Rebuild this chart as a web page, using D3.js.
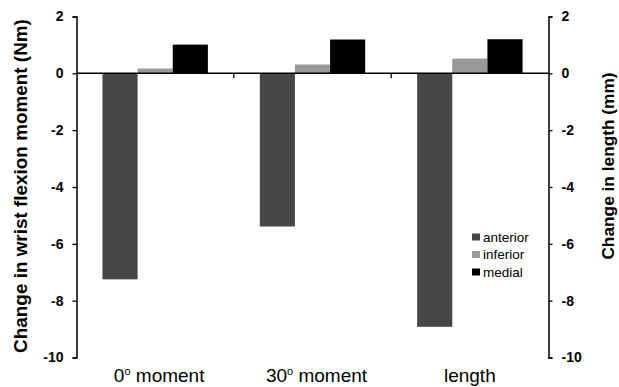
<!DOCTYPE html>
<html>
<head>
<meta charset="utf-8">
<script src="https://cdn.jsdelivr.net/npm/d3@7"></script>
<style>
  body { margin: 0; background: white; }
</style>
</head>
<body>
<div id="chart"></div>
<script>
// categories and series
let categories = ["0° moment", "30° moment", "length"];
let seriesNames = ["anterior", "inferior", "medial"];
let anterior = [-7.25, -5.39, -8.92];
let inferior = [0.17, 0.31, 0.52];
let medial = [1.01, 1.19, 1.2];
let yTicks = [2, 0, -2, -4, -6, -8, -10];

let colors = { anterior: "#474747", inferior: "#999999", medial: "#000000" };

let rows = categories.map((c, i) => ({
  cat: c,
  anterior: anterior[i],
  inferior: inferior[i],
  medial: medial[i]
}));

let width = 619, height = 387;
let plotLeft = 76.5, plotRight = 548.5, plotTop = 16.5, plotBottom = 357.5;

let svg = d3.select("#chart")
  .append("svg")
    .attr("width", width)
    .attr("height", height)
    .attr("font-family", "Arial, 'Liberation Sans', sans-serif")
;

let x = d3.scaleBand()
  .domain(categories)
  .range([plotLeft, plotRight])
  .paddingInner(0.33)
  .paddingOuter(0.165)
;
// outer band for tick positions at category boundaries
let xOuter = d3.scaleBand().domain(categories).range([plotLeft, plotRight]);

let xSub = d3.scaleBand()
  .domain(seriesNames)
  .range([0, x.bandwidth()])
;

let y = d3.scaleLinear().domain([-10, 2]).range([plotBottom, plotTop]);

// bars
let groups = svg.selectAll(".group").data(rows).enter()
  .append("g")
    .attr("class", "group")
    .attr("transform", d => "translate(" + x(d.cat) + ",0)")
;

groups.selectAll("rect")
  .data(d => seriesNames.map(s => ({ key: s, value: d[s] })))
  .enter()
  .append("rect")
    .attr("x", d => xSub(d.key))
    .attr("width", xSub.bandwidth())
    .attr("y", d => y(Math.max(0, d.value)))
    .attr("height", d => Math.abs(y(d.value) - y(0)))
    .attr("fill", d => colors[d.key])
;

// left axis
let leftAxis = svg.append("g")
  .attr("transform", "translate(" + plotLeft + ",0)")
  .call(d3.axisLeft(y).tickValues(yTicks).tickSize(4).tickPadding(9).tickFormat(d3.format("d")));

// right axis
let rightAxis = svg.append("g")
  .attr("transform", "translate(" + plotRight + ",0)")
  .call(d3.axisRight(y).tickValues(yTicks).tickSize(4).tickPadding(9).tickFormat(d3.format("d")));

[leftAxis, rightAxis].forEach(a => {
  a.select(".domain").attr("stroke", "#000").attr("stroke-width", 1.5);
  a.selectAll(".tick line").attr("stroke", "#000").attr("stroke-width", 1.3);
  a.selectAll(".tick text")
    .attr("font-size", 14)
    .attr("font-weight", "bold")
    .attr("fill", "#000")
    .attr("font-family", "Arial, 'Liberation Sans', sans-serif")
    .text(d => d < 0 ? "-" + Math.abs(d) : d);
});

// zero line with category ticks
svg.append("line")
  .attr("x1", plotLeft).attr("x2", plotRight)
  .attr("y1", y(0)).attr("y2", y(0))
  .attr("stroke", "#000")
  .attr("stroke-width", 1.5)
;
svg.selectAll(".cattick").data(categories.slice(1)).enter()
  .append("line")
    .attr("x1", d => xOuter(d)).attr("x2", d => xOuter(d))
    .attr("y1", y(0)).attr("y2", y(0) + 5)
    .attr("stroke", "#000")
    .attr("stroke-width", 1.3)
;

// category labels (the degree sign is drawn as a superscript o)
let labels = svg.selectAll(".catlabel").data(categories).enter()
  .append("text")
    .attr("class", "catlabel")
    .attr("x", d => xOuter(d) + xOuter.bandwidth() / 2)
    .attr("y", 382)
    .attr("text-anchor", "middle")
    .attr("font-size", 19)
    .attr("fill", "#000")
;
labels.each(function(d) {
  let t = d3.select(this);
  if (d.indexOf("°") >= 0) {
    let parts = d.split("°");
    t.attr("dx", 4);
    t.append("tspan").text(parts[0]);
    t.append("tspan").text("o").attr("font-size", 11).attr("dy", -7.5);
    t.append("tspan").text(parts[1]).attr("dy", 7.5);
  } else {
    t.text(d);
  }
});

// axis titles
svg.append("text")
  .attr("transform", "translate(27,186) rotate(-90)")
  .attr("text-anchor", "middle")
  .attr("font-size", 18.9)
  .attr("font-weight", "bold")
  .text("Change in wrist flexion moment (Nm)")
;
svg.append("text")
  .attr("transform", "translate(614,166) rotate(-90)")
  .attr("text-anchor", "middle")
  .attr("font-size", 17.3)
  .attr("font-weight", "bold")
  .text("Change in length (mm)")
;

// legend
let legend = svg.selectAll(".legend").data(seriesNames).enter()
  .append("g")
    .attr("class", "legend")
    .attr("transform", (d, i) => "translate(472," + (237 + i * 17.5) + ")")
;
legend.append("rect")
  .attr("x", 0).attr("y", -3.5)
  .attr("width", 8).attr("height", 7)
  .attr("fill", d => colors[d])
;
legend.append("text")
  .attr("x", 11).attr("y", 4.5)
  .attr("font-size", 13.5)
  .attr("fill", "#000")
  .text(d => d)
;
</script>
</body>
</html>
